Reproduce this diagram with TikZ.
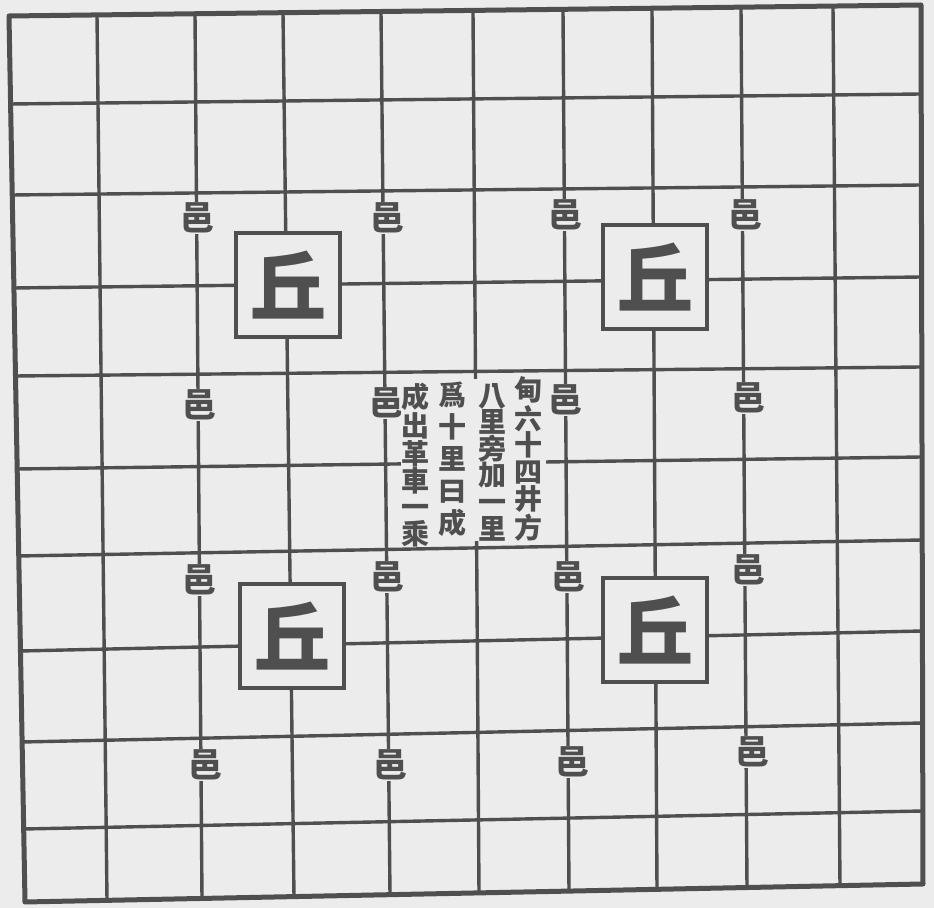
\documentclass[tikz,border=0pt]{standalone}
\usepackage{fontspec}
\usepackage{tikz}
\newfontfamily\cjk{Noto Sans CJK TC}
\definecolor{paper}{HTML}{ECECEC}
\definecolor{ink}{HTML}{4F4F4F}

\begin{document}
\begin{tikzpicture}[x=0.5pt, y=-0.5pt,
    gridline/.style={ink, line width=1.7pt},
    frameline/.style={ink, line width=2.5pt, line join=round},
    yi/.style={fill=paper, inner sep=0.5pt, text=ink, font=\cjk\bfseries\fontsize{17}{17}\selectfont},
    qiu/.style={draw=ink, fill=paper, line width=2pt, minimum size=52pt, inner sep=0pt,
                text=ink, font=\cjk\bfseries\fontsize{38}{38}\selectfont},
    col/.style={align=center, inner sep=0pt, text=ink, font=\cjk\bfseries\fontsize{14}{13.3}\selectfont}]

    % ── Paper ────────────────────────────────────────────────────────────────
    \fill[paper] (0,0) rectangle (934,908);
    \useasboundingbox (0,0) rectangle (934,908);

    % ── Grid (the sheet is a little skewed) ──────────────────────────────────
    \foreach \xt/\xb in {97/107, 195/202, 283/294, 381/390, 473/479,
                         563/569, 652/657, 741/747, 833/840}
        \draw[gridline] ({\xt},{16-11*(\xt-9)/912}) -- ({\xb},{902-18*(\xb-25)/898});
    \foreach \yl/\yr in {104/94, 195/185, 288/277, 376/367, 469/457,
                         556/540, 651/631, 742/723, 829/811}
        \draw[gridline] ({9+16*(\yl-16)/886},{\yl}) -- ({921+2*(\yr-5)/879},{\yr});
    \draw[frameline] (9,16) -- (921,5) -- (923,884) -- (25,902) -- cycle;

    % ── Yi (towns) ───────────────────────────────────────────────────────────
    \foreach \px/\py [count=\i] in {197/218, 387/218, 565/215, 745/215,
                                    200/405, 386/403, 565/400, 748/398,
                                    200/580, 387/577, 568/577, 748/570,
                                    205/765, 390/765, 572/762, 752/752}
        \node[yi] (yi\i) at (\px,\py) {邑};

    % ── Note in the middle ───────────────────────────────────────────────────
    \fill[paper] (401,379) rectangle (546,541);
    \node[col] (col1) at (528,459) {甸\\六\\十\\四\\井\\方};
    \node[col] (col2) at (492,462) {八\\里\\旁\\加\\一\\里};
    \node[col, font=\cjk\bfseries\fontsize{14}{16}\selectfont] (col3) at (452,459) {爲\\十\\里\\曰\\成};
    \node[col] (col4) at (415,465) {成\\出\\革\\車\\一\\乘};

    % ── Qiu (boxes) ──────────────────────────────────────────────────────────
    \node[qiu] (qiu1) at (288,285) {丘};
    \node[qiu] (qiu2) at (655,277) {丘};
    \node[qiu] (qiu3) at (292,636) {丘};
    \node[qiu] (qiu4) at (655,630) {丘};

\end{tikzpicture}
\end{document}
